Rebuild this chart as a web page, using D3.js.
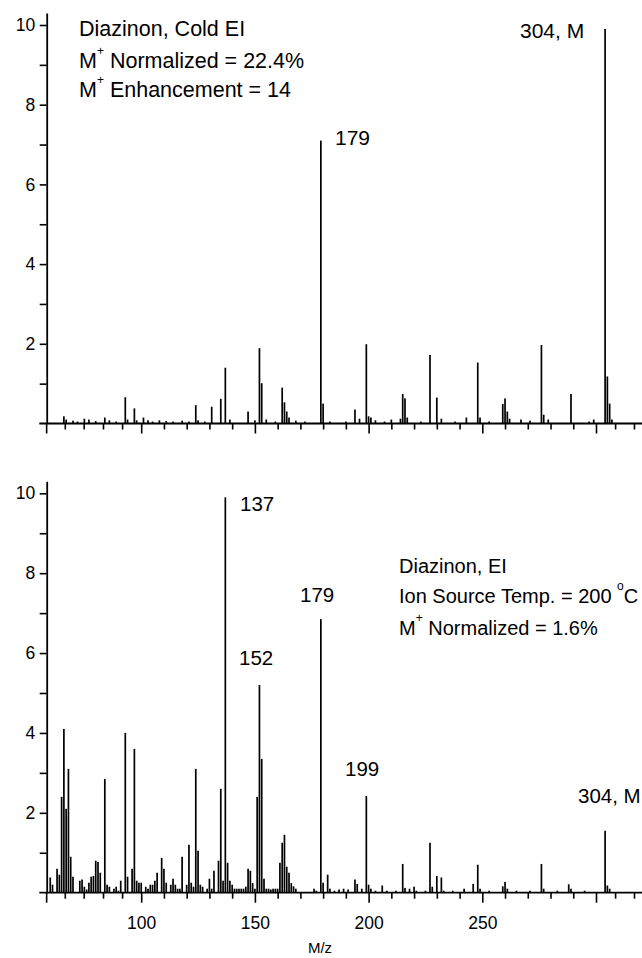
<!DOCTYPE html>
<html><head><meta charset="utf-8">
<script src="https://cdn.jsdelivr.net/npm/d3@7"></script>
<style>html,body{margin:0;padding:0;background:#fff;}svg{display:block;}</style>
</head><body>
<svg id="c" width="642" height="958"></svg>
<script>
// ---- data ----
// Cold EI spectrum (top): m/z and intensity
const coldMz = [66,67,70,72,75,77,80,84,86,89,93,94,97,98,101,103,105,108,111,114,118,121,124,125,128,131,135,137,139,147,150,152,153,155,159,162,163,164,165,168,172,179,180,183,190,194,196,199,200,201,203,207,210,214,215,216,217,223,227,230,232,238,243,248,249,253,259,260,261,262,267,271,276,277,279,289,297,299,304,305,306,307];
const coldInt = [0.18,0.1,0.07,0.05,0.12,0.1,0.06,0.15,0.08,0.05,0.66,0.1,0.38,0.08,0.15,0.08,0.05,0.08,0.06,0.05,0.07,0.05,0.46,0.08,0.05,0.42,0.62,1.4,0.1,0.3,0.08,1.89,1.01,0.1,0.05,0.9,0.53,0.3,0.15,0.07,0.05,7.1,0.5,0.05,0.05,0.35,0.12,1.99,0.18,0.15,0.08,0.05,0.1,0.12,0.74,0.63,0.15,0.05,1.72,0.65,0.12,0.05,0.15,1.53,0.15,0.05,0.49,0.63,0.3,0.12,0.1,0.07,1.97,0.22,0.1,0.74,0.05,0.1,9.9,1.18,0.5,0.1];
// Standard EI spectrum (bottom)
const eiMz = [60,61,63,64,65,66,67,68,69,70,73,74,75,76,77,78,79,80,81,82,84,85,86,88,89,90,91,93,94,96,97,98,99,100,102,103,104,105,106,107,109,110,111,113,114,115,116,117,118,120,121,122,123,124,125,126,127,129,130,131,132,134,135,136,137,138,139,140,141,142,143,144,145,146,147,148,149,150,151,152,153,154,155,156,157,158,159,160,161,162,163,164,165,166,167,168,176,177,179,180,182,183,185,187,189,191,194,195,197,199,200,201,203,206,208,212,215,216,218,220,221,225,227,228,230,232,233,237,242,246,248,249,253,259,260,261,265,271,276,277,283,288,289,295,304,305,306];
const eiInt = [0.38,0.2,0.6,0.45,2.4,4.1,2.1,3.1,0.9,0.4,0.3,0.33,0.15,0.08,0.25,0.4,0.42,0.8,0.77,0.5,2.85,0.2,0.15,0.1,0.15,0.05,0.3,4.0,0.4,0.6,3.6,0.3,0.25,0.25,0.15,0.1,0.2,0.2,0.3,0.5,0.87,0.6,0.25,0.2,0.35,0.2,0.1,0.1,0.9,0.2,1.2,0.25,0.15,3.1,1.05,0.2,0.15,0.1,0.35,0.1,0.55,0.8,2.6,0.3,9.9,0.75,0.3,0.2,0.1,0.1,0.1,0.1,0.1,0.15,0.6,0.55,0.24,0.1,2.4,5.2,3.35,0.35,0.1,0.1,0.08,0.1,0.1,0.1,0.75,1.25,1.45,0.65,0.5,0.24,0.16,0.1,0.1,0.05,6.85,0.25,0.45,0.1,0.05,0.08,0.1,0.08,0.33,0.22,0.1,2.42,0.2,0.1,0.05,0.18,0.05,0.05,0.72,0.12,0.1,0.15,0.05,0.05,1.25,0.15,0.42,0.38,0.05,0.05,0.1,0.22,0.7,0.1,0.05,0.16,0.27,0.1,0.05,0.05,0.72,0.1,0.05,0.21,0.1,0.05,1.55,0.18,0.1];

const yTickMajor = [2,4,6,8,10];
const yTickMinor = [1,3,5,7,9];
const xTickLabeled = [100,150,200,250];
const xTickMajorUnlabeled = [58.2,300];
const xTickMinor = [66.4,74.7,83.2,91.6,110,120,130,140,160,170,180,190,210,220,230,240,260,270,280,290,308.4,316.7];

const coldNotes = ["Diazinon, Cold EI", ["M","+"," Normalized = 22.4%"], ["M","+"," Enhancement = 14"]];
const eiNotes = ["Diazinon, EI", ["Ion Source Temp. = 200 ","o","C"], ["M","+"," Normalized = 1.6%"]];
const coldPeakLabels = [{mz:179, t:"179"}, {mz:304, t:"304, M"}];
const eiPeakLabels = [{mz:137, t:"137"}, {mz:152, t:"152"}, {mz:179, t:"179"}, {mz:199, t:"199"}, {mz:304, t:"304, M"}];

// ---- drawing ----
const FONT = "'Liberation Sans', Arial, Helvetica, sans-serif";
const svg = d3.select('#c').style('font-family', FONT);
const x = d3.scaleLinear().domain([100, 300]).range([141.2, 596]);
const xLeft = 39.3, xRight = 642;

const panels = [
  {mz: coldMz, v: coldInt, y0: 423.5, k: 39.85, notes: coldNotes, nx: 79, ny: [36, 68, 97], nfs: 21.5,
   peaks: coldPeakLabels, peakPos: {179: [335, 145], 304: [520, 38]}, pfs: 21, xlabels: false},
  {mz: eiMz, v: eiInt, y0: 892.7, k: 39.94, notes: eiNotes, nx: 399, ny: [573, 603, 635], nfs: 20,
   peaks: eiPeakLabels, peakPos: {137: [240, 511], 152: [239, 665], 179: [300, 602], 199: [345, 776], 304: [578, 803]}, pfs: 20.5, xlabels: true}
];

panels.forEach(p => {
  const y = d3.scaleLinear().domain([0, 10.3]).range([p.y0, p.y0 - 10.3 * p.k]);
  const g = svg.append('g');

  // bars
  const data = p.mz.map((m, i) => ({m, v: p.v[i]}));
  g.selectAll('rect.bar').data(data).join('rect').attr('class', 'bar')
    .attr('x', d => x(d.m) - 0.85).attr('width', 1.7)
    .attr('y', d => y(d.v)).attr('height', d => y(0) - y(d.v))
    .attr('fill', '#000');

  // y axis
  const ya = g.append('g').attr('transform', 'translate(46.7,0)')
    .call(d3.axisLeft(y).tickValues(yTickMajor).tickSize(7).tickSizeOuter(0).tickPadding(4.5).tickFormat(d3.format('d')));
  ya.select('.domain').attr('stroke-width', 1.8);
  ya.selectAll('.tick line').attr('stroke-width', 1.6);
  ya.selectAll('.tick text').attr('font-size', 17.5).attr('font-family', FONT).attr('fill', '#000');
  const ym = g.append('g').attr('transform', 'translate(46.7,0)')
    .call(d3.axisLeft(y).tickValues(yTickMinor).tickSize(7).tickFormat(''));
  ym.select('.domain').remove();
  ym.selectAll('.tick line').attr('stroke-width', 1.6);

  // x baseline
  g.append('line').attr('x1', xLeft).attr('x2', xRight).attr('y1', y(0)).attr('y2', y(0))
    .attr('stroke', '#000').attr('stroke-width', 1.8);

  // x ticks
  const xa = g.append('g').attr('transform', `translate(0,${y(0)})`)
    .call(d3.axisBottom(x).tickValues(xTickLabeled).tickSize(10).tickPadding(14)
      .tickFormat(p.xlabels ? d3.format('d') : ''));
  xa.select('.domain').remove();
  xa.selectAll('.tick line').attr('stroke-width', 1.6);
  xa.selectAll('.tick text').attr('font-size', 17.5).attr('font-family', FONT).attr('fill', '#000');
  const xb = g.append('g').attr('transform', `translate(0,${y(0)})`)
    .call(d3.axisBottom(x).tickValues(xTickMajorUnlabeled).tickSize(10).tickFormat(''));
  xb.select('.domain').remove();
  xb.selectAll('.tick line').attr('stroke-width', 1.6);
  const xm = g.append('g').attr('transform', `translate(0,${y(0)})`)
    .call(d3.axisBottom(x).tickValues(xTickMinor).tickSize(6).tickFormat(''));
  xm.select('.domain').remove();
  xm.selectAll('.tick line').attr('stroke-width', 1.6);

  // notes
  p.notes.forEach((n, i) => {
    const t = g.append('text').attr('x', p.nx).attr('y', p.ny[i]).attr('font-size', p.nfs).attr('fill', '#000');
    if (typeof n === 'string') { t.text(n); }
    else {
      t.append('tspan').text(n[0]);
      t.append('tspan').attr('font-size', 12).attr('dy', -13).text(n[1]);
      t.append('tspan').attr('font-size', p.nfs).attr('dy', 13).text(n[2]);
    }
  });

  // peak labels
  p.peaks.forEach(pk => {
    const pos = p.peakPos[pk.mz];
    g.append('text').attr('x', pos[0]).attr('y', pos[1]).attr('font-size', p.pfs).attr('fill', '#000').text(pk.t);
  });
});

// x axis title
svg.append('text').attr('x', 320).attr('y', 953).attr('text-anchor', 'middle')
  .attr('font-size', 15).attr('fill', '#000').text('M/z');
</script>
</body></html>
